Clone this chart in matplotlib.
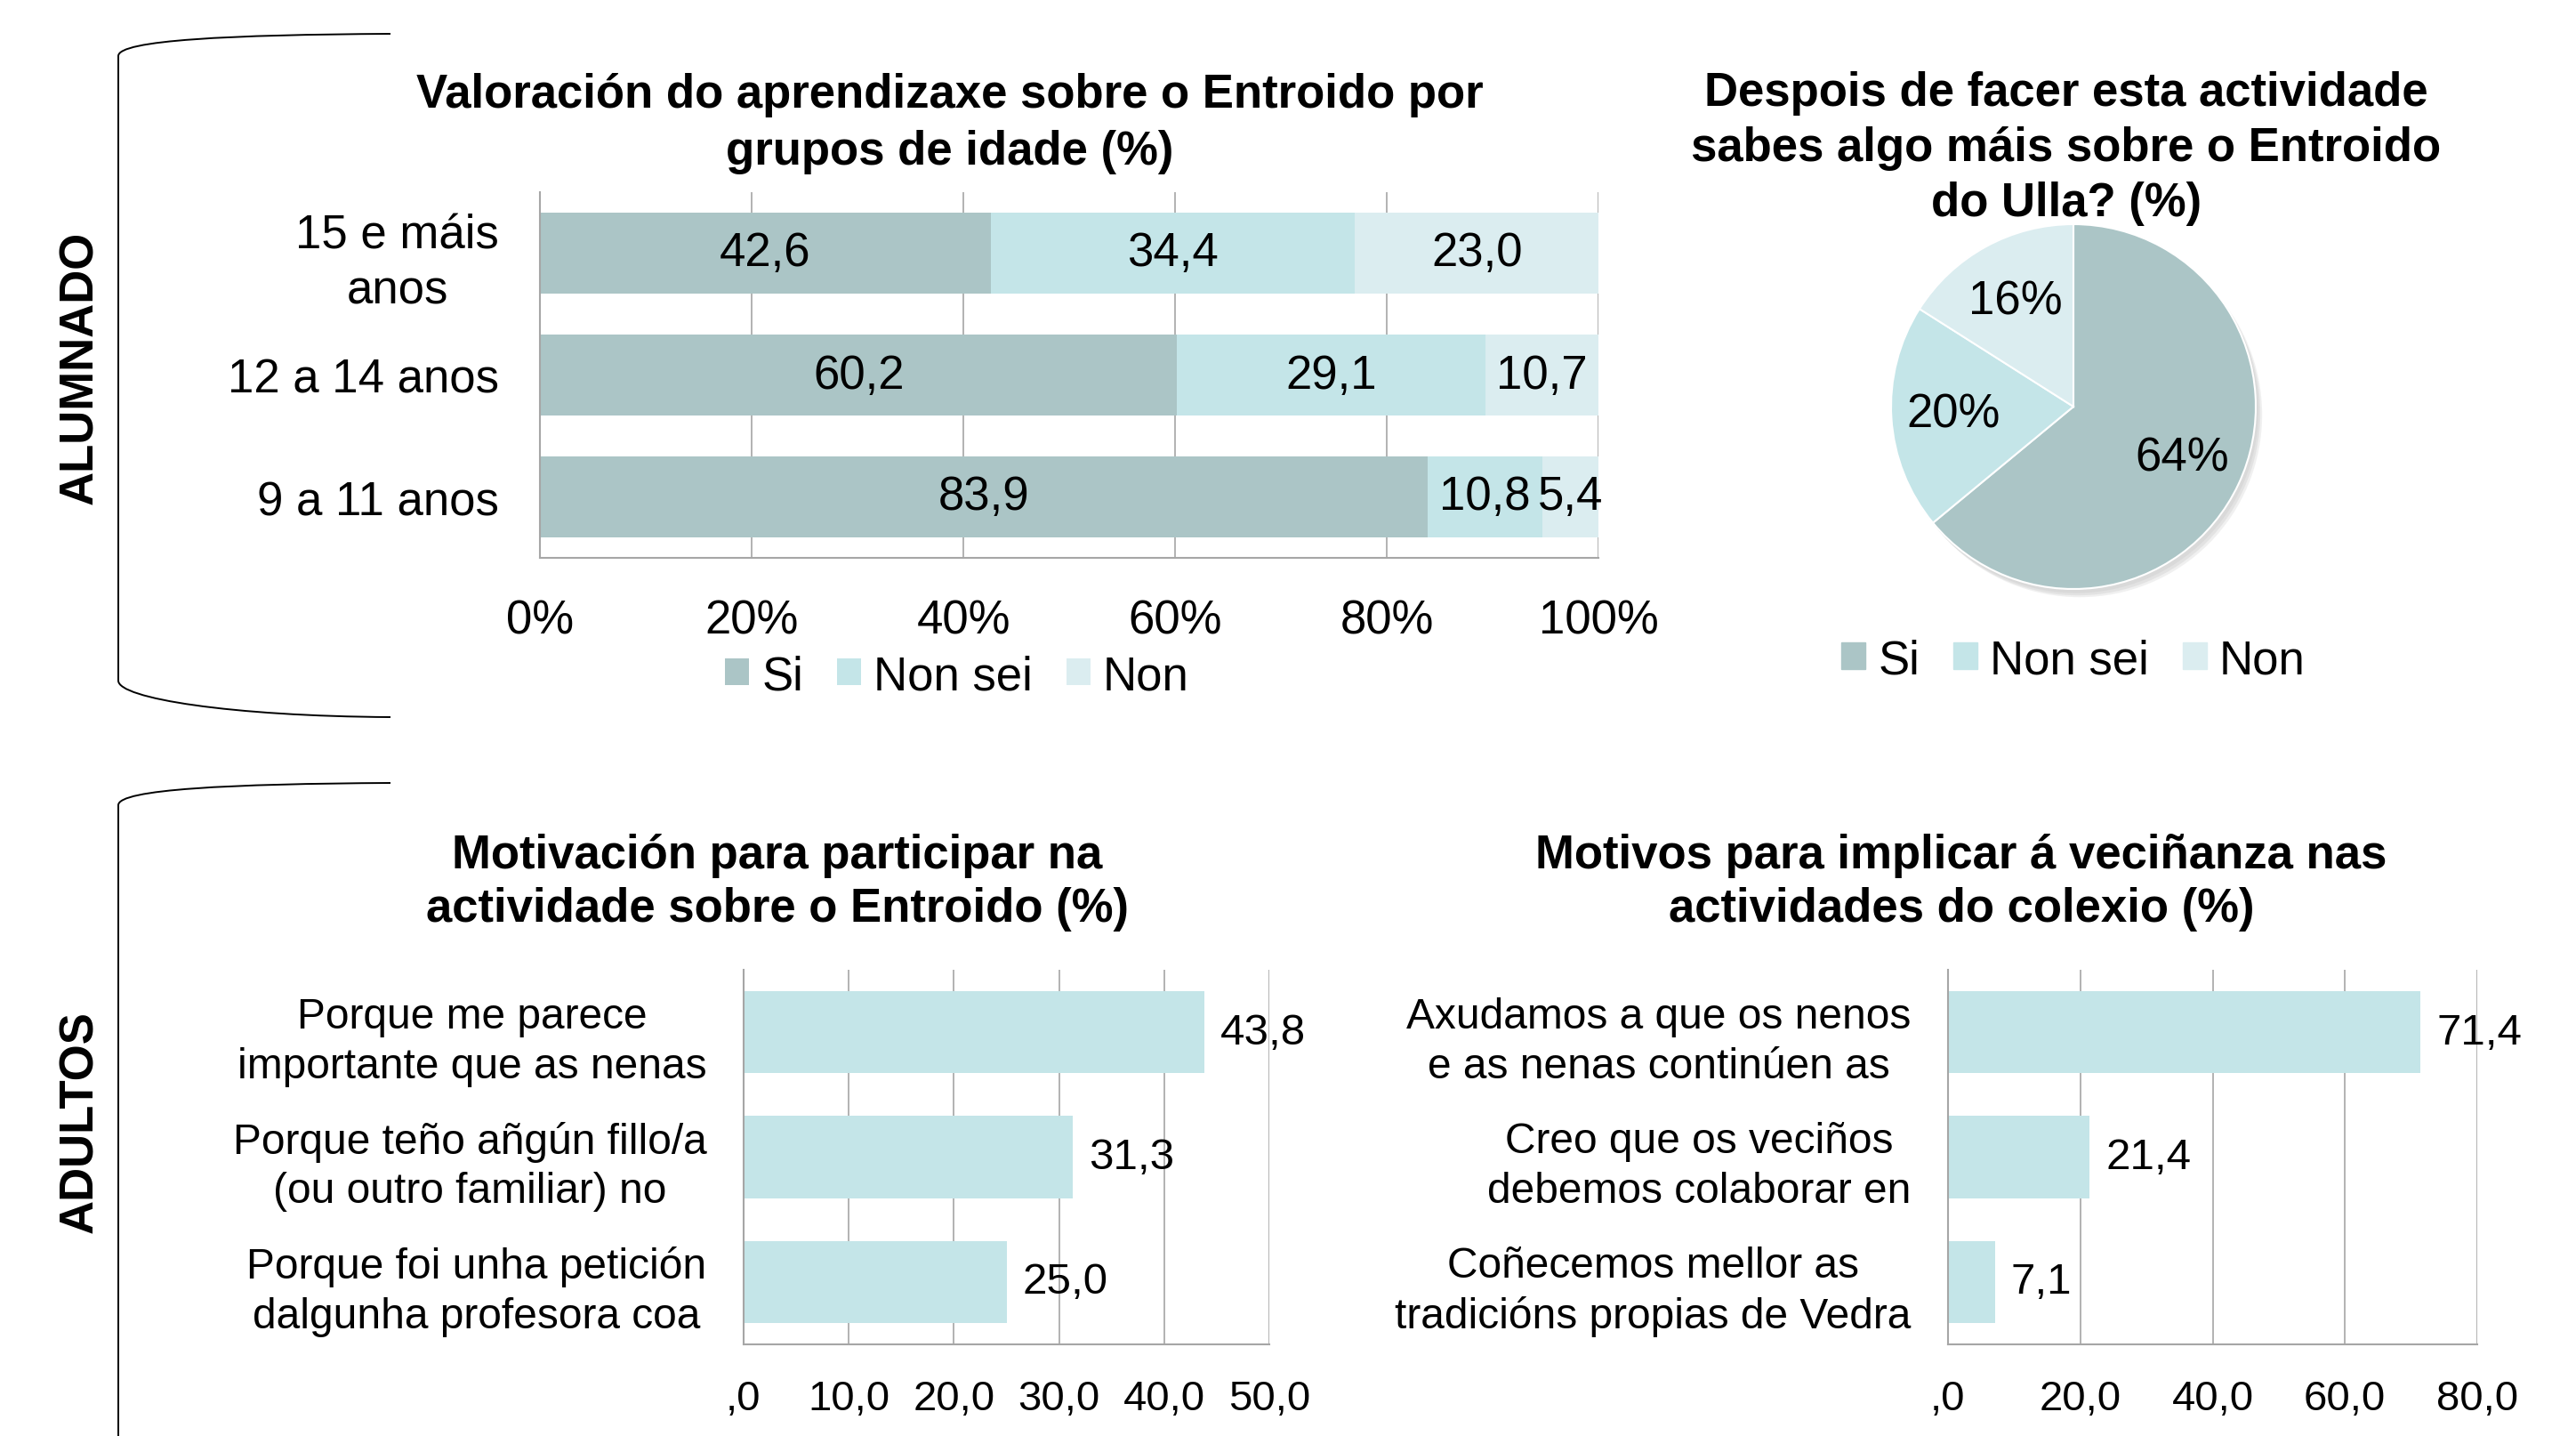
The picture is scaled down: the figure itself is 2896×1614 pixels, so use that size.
import matplotlib
matplotlib.use('Agg')
import matplotlib.pyplot as plt
from matplotlib.path import Path
from matplotlib.patches import PathPatch, Circle, Patch

plt.rcParams['font.family'] = ['Liberation Sans', 'DejaVu Sans']

# ---------------- data ----------------
age_groups = ['15 e máis\nanos', '12 a 14 anos', '9 a 11 anos']
si_vals = [42.6, 60.2, 83.9]
non_sei_vals = [34.4, 29.1, 10.8]
non_vals = [23.0, 10.7, 5.4]
pct_ticks = [0, 20, 40, 60, 80, 100]
pct_tick_labels = ['0%', '20%', '40%', '60%', '80%', '100%']

pie_labels = ['Si', 'Non sei', 'Non']
pie_values = [64, 20, 16]

motiv_labels = ['Porque me parece\nimportante que as nenas',
                'Porque teño añgún fillo/a\n(ou outro familiar) no',
                'Porque foi unha petición\ndalgunha profesora coa']
motiv_values = [43.8, 31.3, 25.0]
motiv_ticks = [0, 10, 20, 30, 40, 50]
motiv_tick_labels = [',0', '10,0', '20,0', '30,0', '40,0', '50,0']

veci_labels = ['Axudamos a que os nenos\ne as nenas continúen as',
               'Creo que os veciños\ndebemos colaborar en',
               'Coñecemos mellor as\ntradicións propias de Vedra']
veci_values = [71.4, 21.4, 7.1]
veci_ticks = [0, 20, 40, 60, 80]
veci_tick_labels = [',0', '20,0', '40,0', '60,0', '80,0']

titles = ['Valoración do aprendizaxe sobre o Entroido por\ngrupos de idade (%)',
          'Despois de facer esta actividade\nsabes algo máis sobre o Entroido\ndo Ulla? (%)',
          'Motivación para participar na\nactividade sobre o Entroido (%)',
          'Motivos para implicar á veciñanza nas\nactividades do colexio (%)']
section_labels = ['ALUMNADO', 'ADULTOS']

# ---------------- style ----------------
W, H, DPI = 2896, 1615, 100
FS = 38
FS_SMALL = 34.5
GRID = '#A6A6A6'
C_SI, C_NS, C_NON = '#ABC5C6', '#C4E5E8', '#DBEDF0'


def fx(px):
    return px / W


def fy(py):
    return 1 - py / H


def rect(x0, y0, x1, y1):
    return [x0 / W, 1 - y1 / H, (x1 - x0) / W, (y1 - y0) / H]


def fmt(v):
    return f'{v:.1f}'.replace('.', ',')


fig = plt.figure(figsize=(W / DPI, H / DPI), dpi=DPI)


def style_bar_axes(ax, pad, tick_fs):
    ax.set_axisbelow(True)
    ax.grid(axis='x', color=GRID, linewidth=1.2)
    ax.grid(axis='y', visible=False)
    for s in ['top', 'right']:
        ax.spines[s].set_visible(False)
    for s in ['left', 'bottom']:
        ax.spines[s].set_color(GRID)
        ax.spines[s].set_linewidth(1.5)
    ax.tick_params(axis='both', length=0, labelsize=tick_fs)
    ax.tick_params(axis='x', pad=pad)


# ---------------- top-left: stacked bars ----------------
ax1 = fig.add_axes(rect(607, 217, 1797, 628))
y = list(range(len(age_groups)))
left2 = [a for a in si_vals]
left3 = [a + b for a, b in zip(si_vals, non_sei_vals)]
b1 = ax1.barh(y, si_vals, height=0.66, color=C_SI, label='Si')
b2 = ax1.barh(y, non_sei_vals, left=left2, height=0.66, color=C_NS, label='Non sei')
b3 = ax1.barh(y, non_vals, left=left3, height=0.66, color=C_NON, label='Non')
for cont, vals in [(b1, si_vals), (b2, non_sei_vals), (b3, non_vals)]:
    ax1.bar_label(cont, labels=[fmt(v) for v in vals], label_type='center', fontsize=FS)
ax1.set_xlim(0, 100)
ax1.set_ylim(len(age_groups) - 0.5, -0.5)
ax1.set_xticks(pct_ticks)
ax1.set_xticklabels(pct_tick_labels)
ax1.set_yticks(y)
ax1.set_yticklabels(age_groups)
style_bar_axes(ax1, 33, FS)
ax1.tick_params(axis='y', pad=33)
for lbl in ax1.get_yticklabels():
    lbl.set_multialignment('center')
    lbl.set_linespacing(1.3)

fig.legend(handles=[b1, b2, b3], labels=['Si', 'Non sei', 'Non'], loc='center',
           bbox_to_anchor=(fx(1076), fy(761)), ncol=3, frameon=False, fontsize=FS,
           handlelength=0.51, handleheight=0.51, handletextpad=0.27, columnspacing=0.72,
           borderpad=0, borderaxespad=0)

fig.text(fx(1068), fy(139), titles[0], ha='center', va='center', fontsize=FS,
         fontweight='bold', linespacing=1.35)

# ---------------- top-right: pie ----------------
cx, cy, r = 2331, 458, 205
half = r * 1.3
ax2 = fig.add_axes(rect(cx - half, cy - half, cx + half, cy + half))
for dx, dy, a in [(0.035, -0.045, 0.35), (0.025, -0.035, 0.5), (0.015, -0.022, 0.7)]:
    ax2.add_patch(Circle((dx, dy), 1.0, color='#D6D6D6', alpha=a, zorder=0, linewidth=0))
wedges, texts, autotexts = ax2.pie(
    pie_values, colors=[C_SI, C_NS, C_NON], startangle=90, counterclock=False,
    autopct=lambda p: f'{p:.0f}%', pctdistance=0.66,
    wedgeprops=dict(edgecolor='white', linewidth=1.5),
    textprops=dict(fontsize=FS))
for w in wedges:
    w.set_zorder(2)
for t in autotexts:
    t.set_zorder(3)
ax2.set_xlim(-1.3, 1.3)
ax2.set_ylim(-1.3, 1.3)
ax2.set_aspect('equal')
ax2.axis('off')

fig.legend(handles=[Patch(color=c) for c in [C_SI, C_NS, C_NON]], labels=pie_labels,
           loc='center', bbox_to_anchor=(fx(2331), fy(743)), ncol=3, frameon=False,
           fontsize=FS, handlelength=0.51, handleheight=0.51, handletextpad=0.27,
           columnspacing=0.72, borderpad=0, borderaxespad=0)

fig.text(fx(2323), fy(167), titles[1], ha='center', va='center', fontsize=FS,
         fontweight='bold', linespacing=1.32)

# ---------------- bottom bars ----------------
def simple_barh(axrect, labels, values, ticks, tick_labels, title, title_x):
    ax = fig.add_axes(axrect)
    yy = list(range(len(labels)))
    bars = ax.barh(yy, values, height=0.66, color=C_NS)
    ax.bar_label(bars, labels=[fmt(v) for v in values], padding=13, fontsize=35.5)
    ax.set_xlim(ticks[0], ticks[-1])
    ax.set_ylim(len(labels) - 0.5, -0.5)
    ax.set_xticks(ticks)
    ax.set_xticklabels(tick_labels)
    ax.set_yticks(yy)
    ax.set_yticklabels(labels)
    style_bar_axes(ax, 28, 34)
    ax.tick_params(axis='y', pad=30, labelsize=FS_SMALL)
    for lbl in ax.get_yticklabels():
        lbl.set_multialignment('center')
        lbl.set_linespacing(1.3)
    fig.text(fx(title_x), fy(992), title, ha='center', va='center', fontsize=FS,
             fontweight='bold', linespacing=1.28)
    return ax


ax3 = simple_barh(rect(836, 1091, 1427, 1512), motiv_labels, motiv_values,
                  motiv_ticks, motiv_tick_labels, titles[2], 874)
ax4 = simple_barh(rect(2190, 1091, 2785, 1512), veci_labels, veci_values,
                  veci_ticks, veci_tick_labels, titles[3], 2205)

# ---------------- brackets & section labels ----------------
def bracket(pts, codes):
    verts = [(fx(px), fy(py)) for px, py in pts]
    fig.add_artist(PathPatch(Path(verts, codes), fill=False, edgecolor='black',
                             linewidth=1.4, transform=fig.transFigure, clip_on=False))


C4, L2, M = Path.CURVE4, Path.LINETO, Path.MOVETO
bracket([(439, 39), (260, 40), (133, 46), (133, 64), (133, 766), (133, 786), (260, 806), (439, 807)],
        [M, C4, C4, C4, L2, C4, C4, C4])
bracket([(439, 881), (260, 882), (133, 888), (133, 906), (133, 1700)],
        [M, C4, C4, C4, L2])

fig.text(fx(90), fy(413), section_labels[0], rotation=90, ha='center', va='center',
         fontsize=FS, fontweight='bold')
fig.text(fx(90), fy(1261), section_labels[1], rotation=90, ha='center', va='center',
         fontsize=FS, fontweight='bold')

fig.savefig('out.png', dpi=DPI, facecolor='white')
